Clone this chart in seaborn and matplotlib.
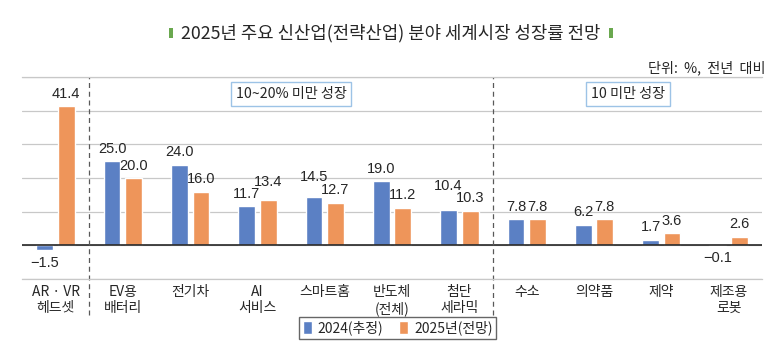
import matplotlib
matplotlib.use('Agg')
import matplotlib.pyplot as plt
import seaborn as sns
import pandas as pd
from matplotlib.patches import Rectangle

# 데이터
categories = ['AR · VR\n헤드셋', 'EV용\n배터리', '전기차', 'AI\n서비스', '스마트홈',
              '반도체\n(전체)', '첨단\n세라믹', '수소', '의약품', '제약', '제조용\n로봇']
growth_2024 = [-1.5, 25.0, 24.0, 11.7, 14.5, 19.0, 10.4, 7.8, 6.2, 1.7, -0.1]
growth_2025 = [41.4, 20.0, 16.0, 13.4, 12.7, 11.2, 10.3, 7.8, 7.8, 3.6, 2.6]
series = ['2024(추정)', '2025년(전망)']
colors = ['#5B80C4', '#EE955A']

df = pd.DataFrame({
    'category': categories * 2,
    'value': growth_2024 + growth_2025,
    'series': [series[0]] * len(categories) + [series[1]] * len(categories),
})

sns.set_style('white')
plt.rcParams['font.family'] = ['Noto Sans CJK KR', 'DejaVu Sans']
num_font = ['Liberation Sans', 'DejaVu Sans']

fig = plt.figure(figsize=(7.81, 3.62), dpi=100)
ax = fig.add_axes([0.028, 0.229, 0.948, 0.558])

sns.barplot(data=df, x='category', y='value', hue='series', palette=colors,
            width=0.64, gap=0.22, saturation=1, errorbar=None, ax=ax)

# 값 라벨 (겹치는 라벨은 원본처럼 위로 조금 올림)
lift = {(0, 6): 8.5, (0, 4): 5, (1, 3): 4.5}
for i, c in enumerate(ax.containers):
    anns = ax.bar_label(c, fmt=lambda v: f'{v:.1f}'.replace('-', '\u2212'), padding=3.8,
                        fontsize=10.5, color='#262626', family=num_font)
    for j, a in enumerate(anns):
        if (i, j) in lift:
            dx, dy = a.xyann
            a.xyann = (dx, dy + lift[(i, j)])

ax.set_ylim(-10, 50)
ax.set_yticks(range(-10, 51, 10))
ax.set_yticklabels([])
ax.tick_params(axis='y', length=0)
ax.tick_params(axis='x', length=0, pad=4, labelsize=10, labelcolor='#262626')
ax.set_xlim(-0.5, len(categories) - 0.5)
ax.grid(axis='y', color='#C8C8C8', lw=0.9)
ax.set_axisbelow(True)
ax.axhline(0, color='#262626', lw=1.2)
for s in ['left', 'right']:
    ax.spines[s].set_visible(False)
for s in ['top', 'bottom']:
    ax.spines[s].set_color('#C8C8C8')
    ax.spines[s].set_linewidth(0.9)
ax.set_xlabel('')
ax.set_ylabel('')

# 구분선
for xv in [0.5, 6.5]:
    ax.axvline(xv, ymin=-0.18, ymax=1, color='#595959', ls=(0, (4, 3)), lw=0.9, clip_on=False)

# 구간 설명
box = dict(boxstyle='square,pad=0.35', fc='white', ec='#9DC3E6', lw=1)
ax.text(3.5, 45, '10~20% 미만 성장', ha='center', va='center', fontsize=10.2, bbox=box)
ax.text(8.5, 45, '10 미만 성장', ha='center', va='center', fontsize=10.2, bbox=box)

# 범례
handles, labels = ax.get_legend_handles_labels()
ax.get_legend().remove()
fig.legend(handles, labels, loc='center', bbox_to_anchor=(0.509, 0.094), ncol=2,
           fontsize=10, frameon=True, fancybox=False, edgecolor='#404040',
           handlelength=0.7, handleheight=1.0, handletextpad=0.4, columnspacing=1.1,
           borderpad=0.25)

# 제목
fig.text(0.5, 0.909, '2025년 주요 신산업(전략산업) 분야 세계시장 성장률 전망',
         ha='center', va='center', fontsize=12.8, color='#262626')
for xl in [169, 609]:
    fig.patches.append(Rectangle((xl / 781, 1 - 38 / 362), 4 / 781, 10 / 362,
                                 transform=fig.transFigure, fc='#6AA84F', ec='none'))
fig.text(0.98, 0.812, '단위:  %,  전년  대비', ha='right', va='center', fontsize=10.2,
         color='#262626')

fig.savefig('out.png', dpi=100)
